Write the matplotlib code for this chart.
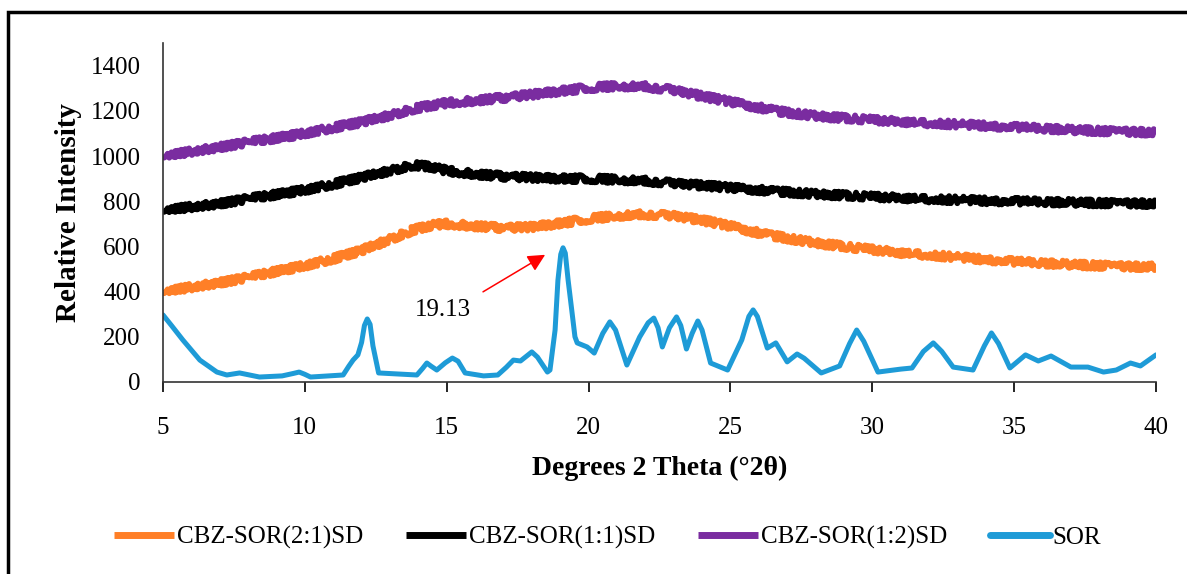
import numpy as np
import matplotlib.pyplot as plt
from matplotlib.patches import Rectangle

plt.rcParams['font.family'] = ['Liberation Serif', 'DejaVu Serif']

# broad amorphous humps of the solid dispersions
x_sd = [5, 6, 7, 8, 9, 10, 11, 12, 13, 13.8, 14.5, 15, 16, 17, 18, 19, 20, 21, 22, 23, 24,
        25, 26, 27, 28, 29, 30, 31, 32, 33, 34, 35, 36, 37, 38, 39, 40]
sd_21 = [400, 420, 440, 462, 490, 515, 545, 582, 632, 672, 695, 700, 690, 682, 686, 702, 722,
         736, 742, 736, 716, 690, 660, 636, 616, 600, 586, 572, 562, 552, 542, 533, 526, 520,
         515, 511, 510]
sd_11 = [760, 775, 790, 810, 830, 850, 875, 905, 935, 960, 952, 935, 920, 910, 905, 900, 900,
         896, 890, 880, 870, 860, 850, 840, 832, 826, 820, 815, 810, 806, 802, 800, 797, 795,
         792, 790, 790]
sd_12 = [1000, 1020, 1040, 1060, 1080, 1100, 1125, 1150, 1180, 1208, 1225, 1235, 1245, 1258,
         1272, 1287, 1302, 1310, 1308, 1292, 1265, 1240, 1215, 1192, 1178, 1168, 1160, 1152,
         1146, 1140, 1134, 1128, 1122, 1116, 1111, 1107, 1105]

# crystalline sorafenib pattern
x_sor = [5, 5.3, 5.7, 6.3, 6.9, 7.25, 7.7, 8.4, 9.2, 9.6, 9.8, 10.0, 10.2, 11.35, 11.55, 11.7,
         11.87, 12.0, 12.1, 12.2, 12.3, 12.4, 12.6, 13.35, 13.95, 14.15, 14.3, 14.45, 14.65,
         14.95, 15.2, 15.4, 15.65, 16.3, 16.8, 17.1, 17.35, 17.6, 17.85, 18.0, 18.2, 18.55,
         18.64, 18.82, 18.92, 19.02, 19.1, 19.18, 19.28, 19.42, 19.52, 19.6, 19.95, 20.2,
         20.5, 20.75, 20.95, 21.35, 21.8, 22.1, 22.3, 22.45, 22.6, 22.85, 23.1, 23.25, 23.45,
         23.65, 23.85, 24.0, 24.3, 24.9, 25.4, 25.65, 25.8, 25.95, 26.3, 26.6, 27.0, 27.35,
         27.6, 28.2, 28.85, 29.2, 29.45, 29.7, 30.2, 31.0, 31.4, 31.8, 32.15, 32.45, 32.85,
         33.55, 33.95, 34.2, 34.45, 34.85, 35.4, 35.85, 36.3, 37.0, 37.6, 38.15, 38.6, 39.1,
         39.45, 40]
sor = [297, 250, 186, 97, 44, 31, 40, 22, 27, 38, 44, 34, 22, 31, 70, 97, 120, 175, 250, 279,
       255, 160, 40, 35, 31, 60, 84, 70, 53, 85, 106, 92, 40, 27, 31, 65, 97, 93, 118, 133,
       110, 44, 53, 230, 450, 565, 594, 570, 450, 305, 200, 173, 155, 128, 215, 266, 230, 75,
       199, 262, 283, 240, 155, 240, 288, 250, 146, 215, 270, 230, 84, 53, 186, 290, 319, 290,
       150, 173, 89, 124, 105, 40, 71, 170, 230, 180, 44, 57, 62, 135, 173, 135, 66, 53, 160,
       217, 170, 62, 120, 93, 115, 66, 66, 44, 53, 84, 71, 120]

labels = ['CBZ-SOR(2:1)SD', 'CBZ-SOR(1:1)SD', 'CBZ-SOR(1:2)SD', 'SOR']
colors = ['#FF7F27', '#000000', '#7A2CA0', '#1E9BD7']

fig = plt.figure(figsize=(11.87, 5.74), dpi=100)
ax = fig.add_axes([0.1373, 0.3345, 0.8366, 0.5905])

for y, c, lab in zip([sd_21, sd_11, sd_12], colors[:3], labels[:3]):
    ln, = ax.plot(x_sd, y, color=c, lw=4.2, label=lab, solid_capstyle='butt')
    ln.set_sketch_params(scale=3.5, length=0.4, randomness=6)
ax.plot(x_sor, sor, color=colors[3], lw=3.6, label=labels[3],
        solid_joinstyle='round', solid_capstyle='round')

ax.text(14.87, 319, '19.13', fontsize=18, ha='center', va='center')
ax.annotate('', xy=(18.47, 563), xytext=(16.28, 399),
            arrowprops=dict(arrowstyle='-|>', color='red', lw=1.1, mutation_scale=26,
                            shrinkA=0, shrinkB=0))

ax.set_xlim(5, 40)
ax.set_ylim(0, 1500)
ax.set_xticks(range(5, 41, 5))
ax.set_yticks(range(0, 1401, 200))
ax.tick_params(axis='x', direction='out', length=7, width=1.2, labelsize=18, pad=18)
ax.tick_params(axis='y', length=0, labelsize=18, pad=16)
for s in ['top', 'right']:
    ax.spines[s].set_visible(False)
for s in ['left', 'bottom']:
    ax.spines[s].set_color('#333333')
    ax.spines[s].set_linewidth(1.2)

ax.set_xlabel('Degrees 2 Theta (°2θ)', fontsize=20, fontweight='bold', labelpad=12)
ax.set_ylabel('Relative Intensity', fontsize=21, fontweight='bold', labelpad=6)

handles, labs = ax.get_legend_handles_labels()
leg = fig.legend(handles, labs, loc='center', bbox_to_anchor=(0.512, 0.063), ncol=4,
                 frameon=False, fontsize=18, handlelength=2.4, handletextpad=0.12,
                 columnspacing=1.7)
for h in leg.get_lines():
    h.set_linewidth(5)
    h.set_sketch_params(None)

fig.patches.append(Rectangle((8 / 1187, -0.05), 1.2, 1 - 12 / 574 + 0.05,
                             transform=fig.transFigure, fill=False, lw=2.5,
                             edgecolor='black'))

fig.savefig('out.png', dpi=100)
